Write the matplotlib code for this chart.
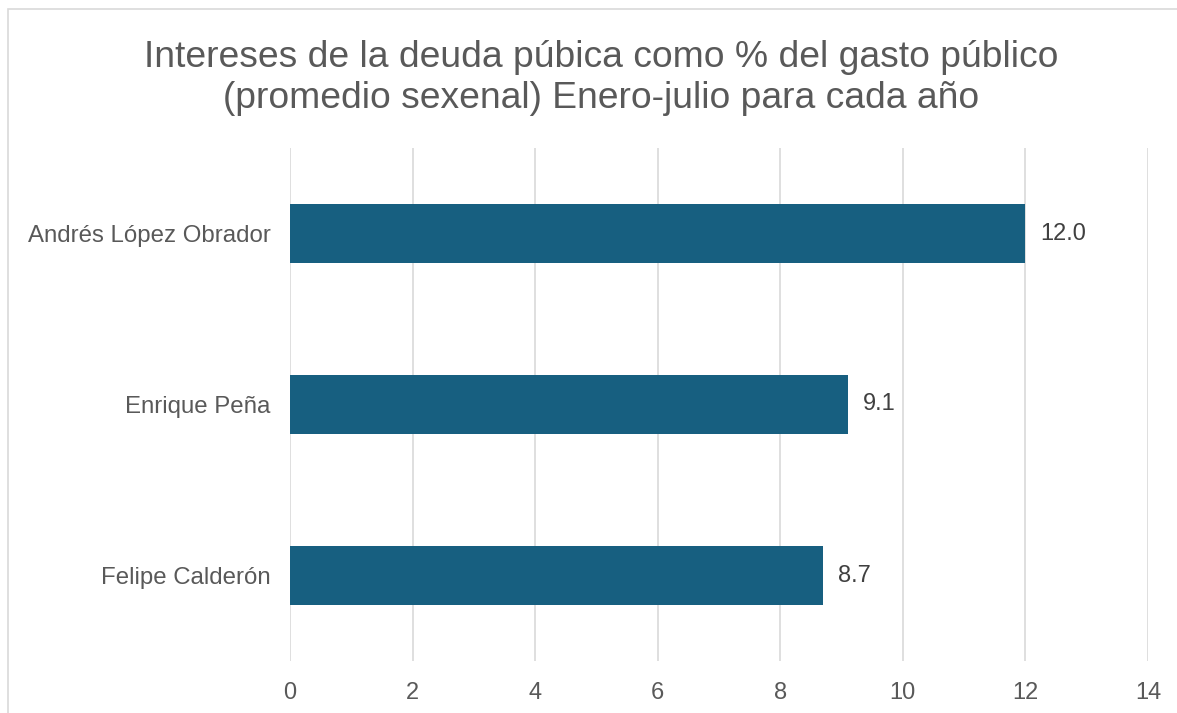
import matplotlib.pyplot as plt
from matplotlib.patches import Rectangle

plt.rcParams['font.family'] = ['Liberation Sans', 'DejaVu Sans']

nombres = ['Felipe Calderón', 'Enrique Peña', 'Andrés López Obrador']
valores = [8.7, 9.1, 12.0]
ticks = [0, 2, 4, 6, 8, 10, 12, 14]
titulo = 'Intereses de la deuda púbica como % del gasto público\n(promedio sexenal) Enero-julio para cada año'

W, H = 1177, 713
fig = plt.figure(figsize=(W / 100, H / 100), dpi=100)

# chart border (Excel-style frame, cut at right and bottom)
fig.patches.append(Rectangle((8 / W, -0.1), 1.2, 1 - 9 / H + 0.1,
                             transform=fig.transFigure, fill=False,
                             edgecolor='#D9D9D9', linewidth=1.2))

ax = fig.add_axes([290 / W, 1 - 661 / H, (1148 - 290) / W, (661 - 148) / H])

y = range(len(nombres))
ax.barh(y, valores, height=0.35, color='#175F80', zorder=3)
for i, v in enumerate(valores):
    ax.text(v + 0.24, i, f'{v:.1f}', va='center', ha='left',
            fontsize=17, color='#404040')

ax.set_xlim(0, 14)
ax.set_ylim(-0.5, 2.5)
ax.set_xticks(ticks)
ax.set_xticklabels([str(t) for t in ticks])
ax.set_yticks(list(y))
ax.set_yticklabels(nombres)
ax.tick_params(axis='x', length=0, pad=15, labelsize=17, labelcolor='#595959')
ax.tick_params(axis='y', length=0, pad=14, labelsize=17.3, labelcolor='#595959')
ax.grid(axis='x', color='#D9D9D9', linewidth=1.2, zorder=0)
for s in ax.spines.values():
    s.set_visible(False)

fig.text(601 / W, 1 - 78 / H, titulo, ha='center', va='center',
         fontsize=26.8, color='#595959', linespacing=1.25)

fig.savefig('out.png', dpi=100)
